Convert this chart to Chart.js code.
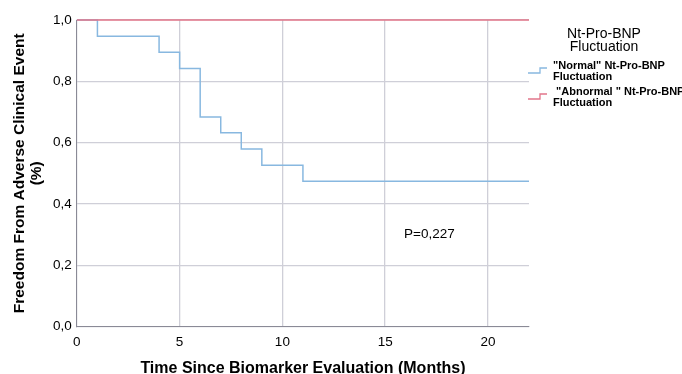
<!DOCTYPE html>
<html lang="en">
<head>
  <meta charset="UTF-8">
  <title>Kaplan-Meier: Nt-Pro-BNP Fluctuation</title>
  <style>
  body { margin: 0; background: #fff; }
  #wrap { width: 682px; height: 374px; }
  </style>
  <script src="https://cdn.jsdelivr.net/npm/chart.js"></script>
</head>
<body>
  <div id="wrap"><canvas id="kmChart" width="682" height="374"></canvas></div>

  <script>
    // survival steps (months, proportion event free)
    var normalTimes = [0, 1, 4, 5, 6, 7, 8, 9, 11, 22];
    var normalValues = [1.0, 0.947, 0.895, 0.842, 0.684, 0.632, 0.579, 0.526, 0.474, 0.474];
    var abnormalTimes = [0, 22];
    var abnormalValues = [1.0, 1.0];
    var seriesLabels = [['"Normal" Nt-Pro-BNP', 'Fluctuation'], [' "Abnormal " Nt-Pro-BNP', 'Fluctuation']];
    var legendTitle = ['Nt-Pro-BNP', 'Fluctuation'];
    var pText = 'P=0,227';
    var pPos = { x: 17.15, y: 0.30 };

    var blue = '#88b8e0';
    var red = '#e2768a';
    var font = '"Liberation Sans", Arial, sans-serif';

    function toPoints(xs, ys) {
      var pts = [];
      for (var i = 0; i < xs.length; i++) pts.push({ x: xs[i], y: ys[i] });
      return pts;
    }

    // p-value text and the step-shaped legend on the right
    var extras = {
      id: 'extras',
      afterDraw: function(chart) {
        var ctx = chart.ctx;
        var xs = chart.scales.x, ys = chart.scales.y;
        ctx.save();
        ctx.fillStyle = '#000';
        ctx.font = '13.5px ' + font;
        ctx.textAlign = 'center';
        ctx.textBaseline = 'middle';
        ctx.fillText(pText, xs.getPixelForValue(pPos.x), ys.getPixelForValue(pPos.y));

        ctx.font = '14px ' + font;
        ctx.fillText(legendTitle[0], 604, 34);
        ctx.fillText(legendTitle[1], 604, 47);

        var colors = [blue, red];
        var rows = [66, 92];
        ctx.font = 'bold 11px ' + font;
        ctx.textAlign = 'left';
        for (var i = 0; i < 2; i++) {
          var y0 = rows[i];
          ctx.strokeStyle = colors[i];
          ctx.lineWidth = 1.3;
          ctx.beginPath();
          ctx.moveTo(528, y0 + 7);
          ctx.lineTo(540, y0 + 7);
          ctx.lineTo(540, y0 + 2);
          ctx.lineTo(547, y0 + 2);
          ctx.stroke();
          ctx.fillStyle = '#000';
          ctx.fillText(seriesLabels[i][0], 553, y0);
          ctx.fillText(seriesLabels[i][1], 553, y0 + 11);
        }
        ctx.restore();
      }
    };

    var kmChart = new Chart('kmChart', {
      type: 'line',
      data: {
        datasets: [{
          label: 'Abnormal',
          data: toPoints(abnormalTimes, abnormalValues),
          borderColor: red,
          borderWidth: 1.6,
          pointRadius: 0,
          stepped: true,
          fill: false,
          clip: 6
        }, {
          label: 'Normal',
          data: toPoints(normalTimes, normalValues),
          borderColor: blue,
          borderWidth: 1.5,
          pointRadius: 0,
          stepped: true,
          fill: false,
          clip: 6
        }]
      },
      options: {
        responsive: false,
        animation: false,
        layout: { padding: { top: 20, right: 153, left: 11, bottom: -4 } },
        plugins: {
          legend: { display: false },
          tooltip: { enabled: false }
        },
        scales: {
          x: {
            type: 'linear',
            min: 0,
            max: 22,
            afterBuildTicks: function(axis) {
              axis.ticks = axis.ticks.filter(function(t) { return t.value % 5 === 0; });
            },
            border: { color: '#8a8a96', width: 1 },
            grid: { color: '#cfcfd8', drawTicks: false, lineWidth: 1.3 },
            ticks: {
              stepSize: 5,
              padding: 8,
              color: '#000',
              font: { family: font, size: 13.5 }
            },
            title: {
              display: true,
              text: 'Time Since Biomarker Evaluation (Months)',
              color: '#000',
              padding: { top: 0, bottom: 0 },
              font: { family: font, size: 16, weight: 'bold' }
            }
          },
          y: {
            min: 0,
            max: 1,
            border: { color: '#8a8a96', width: 1 },
            grid: { color: '#cfcfd8', drawTicks: false, lineWidth: 1.3 },
            ticks: {
              stepSize: 0.2,
              padding: 5,
              color: '#000',
              font: { family: font, size: 13.5 },
              callback: function(v) { return v.toFixed(1).replace('.', ','); }
            },
            title: {
              display: true,
              text: ['Freedom From Adverse Clinical Event', '(%)'],
              color: '#000',
              padding: { top: 0, bottom: 3 },
              font: { family: font, size: 15.5, weight: 'bold', lineHeight: 1.1 }
            }
          }
        }
      },
      plugins: [extras]
    });
  </script>
</body>
</html>
